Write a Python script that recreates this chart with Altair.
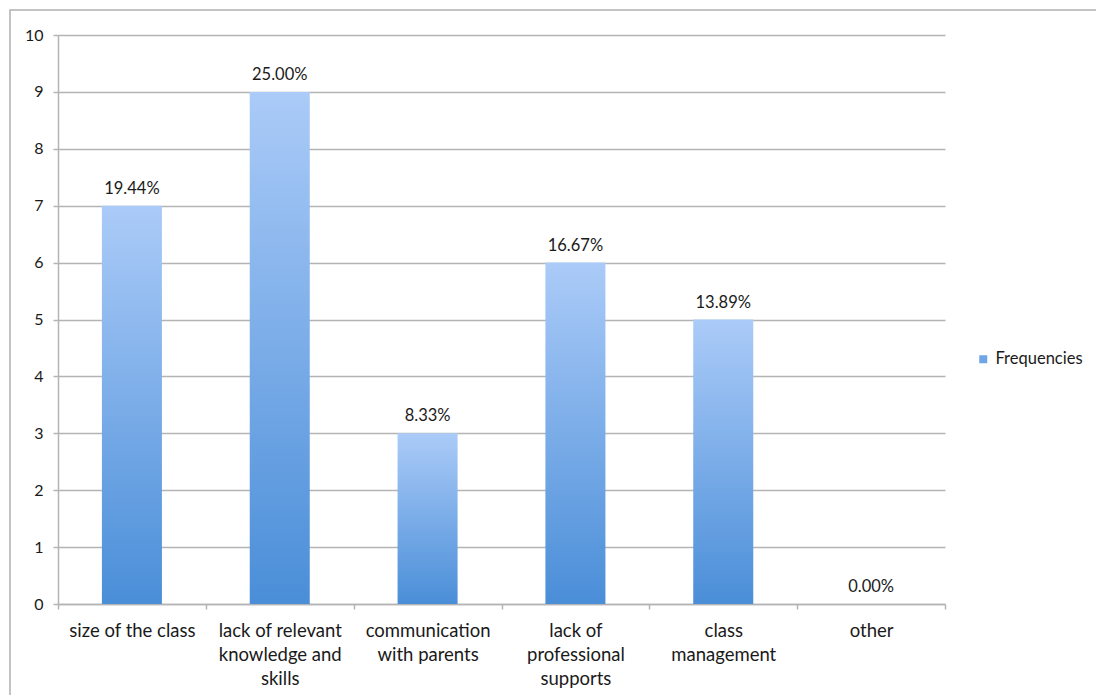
import altair as alt
import pandas as pd

# Categories (line breaks mark where the axis label wraps)
categories = [
    "size of the class",
    "lack of relevant\nknowledge and\nskills",
    "communication\nwith parents",
    "lack of\nprofessional\nsupports",
    "class\nmanagement",
    "other",
]
frequencies = [7, 9, 3, 6, 5, 0]
percent_labels = ["19.44%", "25.00%", "8.33%", "16.67%", "13.89%", "0.00%"]
series_name = "Frequencies"

df = pd.DataFrame({
    "category": categories,
    "value": frequencies,
    "pct": percent_labels,
    "series": [series_name] * len(categories),
})

FONT = "Lato"
TEXT = "#1a1a1a"
GRID = "#b4b4b4"

bar_fill = alt.Gradient(
    gradient="linear",
    stops=[
        alt.GradientStop(color="#abcbf8", offset=0),
        alt.GradientStop(color="#4a8ed8", offset=1),
    ],
    x1=0, x2=0, y1=0, y2=1,
)

x_enc = alt.X(
    "category:N",
    sort=categories,
    title=None,
    scale=alt.Scale(paddingInner=0, paddingOuter=0),
    axis=alt.Axis(
        labelAngle=0,
        labelExpr="isValid(datum.value) ? split(datum.value, '\\n') : ''",
        labelFont=FONT,
        labelFontSize=18.5,
        labelColor=TEXT,
        labelLineHeight=24,
        labelBaseline="top",
        labelPadding=12,
        tickBand="extent",
        tickSize=5,
        tickColor=GRID,
        domainColor=GRID,
        domainWidth=1.5,
        tickWidth=1.5,
        grid=False,
    ),
)

y_enc = alt.Y(
    "value:Q",
    title=None,
    scale=alt.Scale(domain=[0, 10], nice=False),
    axis=alt.Axis(
        values=list(range(0, 11)),
        format="d",
        labelFont=FONT,
        labelFontSize=16,
        labelColor=TEXT,
        labelPadding=10,
        tickSize=5,
        tickColor=GRID,
        tickWidth=1.5,
        domainColor=GRID,
        domainWidth=1.5,
        gridColor=GRID,
        gridWidth=1.5,
    ),
)

bars = alt.Chart(df).mark_bar(
    color=bar_fill, width=alt.RelativeBandSize(0.406)
).encode(x=x_enc, y=y_enc)

labels = alt.Chart(df).mark_text(
    font=FONT, fontSize=16.5, color=TEXT, baseline="alphabetic", dy=-12
).encode(x=alt.X("category:N", sort=categories), y="value:Q", text="pct:N")

# invisible layer that only carries the series legend
legend_layer = alt.Chart(df).mark_square(opacity=0).encode(
    x=alt.X("category:N", sort=categories),
    y="value:Q",
    color=alt.Color(
        "series:N",
        scale=alt.Scale(range=["#6ea6e8"]),
        legend=alt.Legend(
            title=None,
            orient="none",
            legendX=917,
            legendY=316,
            padding=0,
            symbolType="square",
            symbolSize=64,
            symbolOpacity=1,
            symbolStrokeWidth=0,
            labelFont=FONT,
            labelFontSize=16.5,
            labelColor=TEXT,
            labelOffset=4,
        ),
    ),
)

# outer frame of the chart
frame = alt.Chart(alt.Data(values=[{}])).mark_rect(
    fill=None, stroke="#b0b0b0", strokeWidth=1.5
).encode(
    x=alt.value(-48), x2=alt.value(1200), y=alt.value(-25), y2=alt.value(800)
)

chart = alt.layer(frame, bars, labels, legend_layer).properties(
    width=887,
    height=569,
    autosize=alt.AutoSizeParams(type="none"),
    padding={"left": 58, "top": 35, "right": 151, "bottom": 91},
    background="white",
).configure_view(stroke=None)

chart.save("out.html", embed_options={"renderer": "svg", "actions": False})
